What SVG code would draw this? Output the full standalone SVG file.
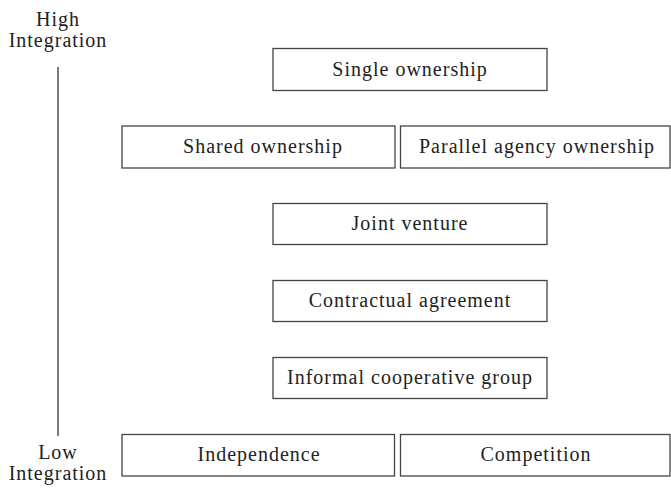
<svg xmlns="http://www.w3.org/2000/svg" width="671" height="488" viewBox="0 0 671 488">
<style>
.box{fill:#fff;stroke:#444;stroke-width:1.3}
text{font-family:"Liberation Serif","Times New Roman",serif;font-size:20px;letter-spacing:1px;fill:#222;text-anchor:middle}
.ax{stroke:#333;stroke-width:1.3}
</style>
<rect width="671" height="488" fill="#fff"/>
<g id="axis">
<text x="58" y="26">High</text>
<text x="58" y="47">Integration</text>
<text x="58" y="459">Low</text>
<text x="58" y="480">Integration</text>
</g>
<g id="connectors">
<line class="ax" x1="58" y1="67" x2="58" y2="436"/>
</g>
<g id="single"><rect class="box" x="273" y="48.5" width="274" height="42"/><text x="410" y="76">Single ownership</text></g>
<g id="shared"><rect class="box" x="122" y="126" width="273" height="42"/><text x="263" y="153">Shared ownership</text></g>
<g id="parallel"><rect class="box" x="400.5" y="126" width="269.5" height="42"/><text x="537" y="153">Parallel agency ownership</text></g>
<g id="joint"><rect class="box" x="273" y="203.5" width="274" height="41"/><text x="410" y="230">Joint venture</text></g>
<g id="contract"><rect class="box" x="273" y="280.5" width="274" height="41"/><text x="410" y="307">Contractual agreement</text></g>
<g id="informal"><rect class="box" x="273" y="357.5" width="274" height="41"/><text x="410" y="384">Informal cooperative group</text></g>
<g id="independence"><rect class="box" x="122" y="434.5" width="272.5" height="41.5"/><text x="259" y="461">Independence</text></g>
<g id="competition"><rect class="box" x="400.5" y="434.5" width="269.5" height="41.5"/><text x="536" y="461">Competition</text></g>
</svg>
